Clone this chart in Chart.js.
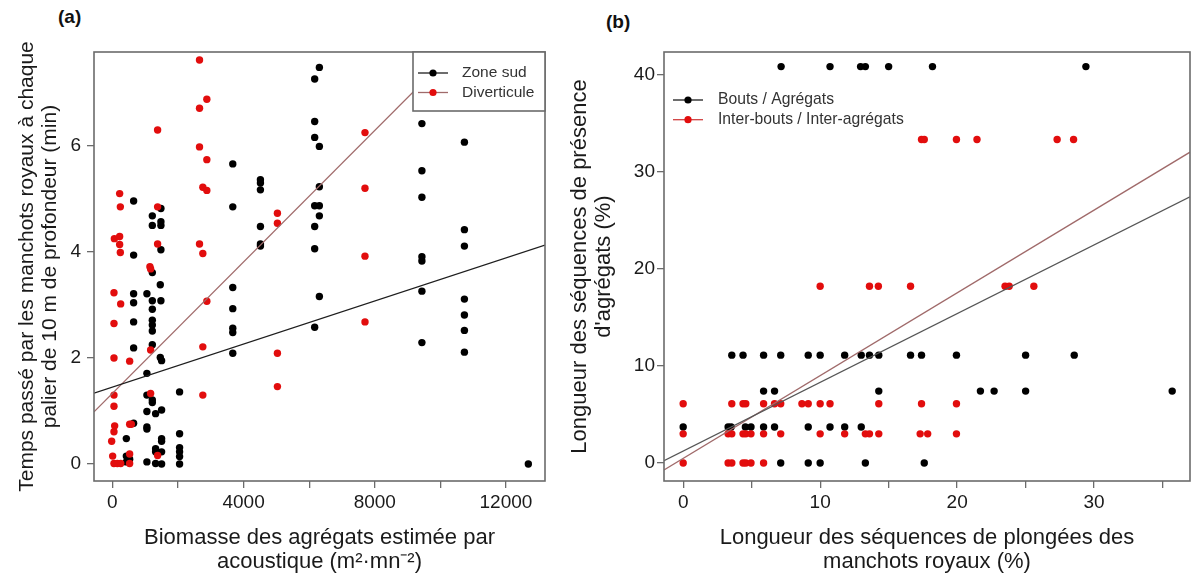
<!DOCTYPE html>
<html lang="fr">
<head>
<meta charset="utf-8">
<title>Manchots royaux et agrégats</title>
<script src="https://cdn.jsdelivr.net/npm/chart.js@4.4.1/dist/chart.umd.min.js"></script>
<style>
  html, body { margin: 0; padding: 0; background: #fff; }
  #wrap { position: relative; width: 1194px; height: 574px; overflow: hidden;
          font-family: "Liberation Sans", Arial, sans-serif; }
  .panel { position: absolute; top: 0; }
  #panel-a { left: 0; }
  #panel-b { left: 560px; }
  .tag { position: absolute; font-weight: bold; font-size: 19px; color: #111; line-height: 1; }
</style>
</head>
<body>
<div id="wrap">
  <div class="tag" style="left:58px; top:7px;">(a)</div>
  <div class="tag" style="left:606px; top:12px;">(b)</div>
  <div class="panel" id="panel-a"><canvas id="chart-a" width="560" height="574"></canvas></div>
  <div class="panel" id="panel-b"><canvas id="chart-b" width="634" height="574"></canvas></div>
</div>
<script>
// ---- panel (a): biomasse vs temps passé ----
const zoneSudX = [6168, 6311, 6168, 6168, 6311, 3671, 4514, 4514, 4514, 648, 1480, 1218, 1480, 1480, 1218,
  3671, 6168, 6311, 6311, 6311, 6168, 6168, 4514, 4514, 4514, 1480, 648, 1218, 9437, 10733, 9437, 9437,
  10733, 10733, 9437, 9437, 6311, 6168, 9437, 9437, 10733, 10733, 10733, 10733, 12682, 1461, 648, 1053,
  1218, 1480, 648, 1218, 648, 1218, 1218, 1218, 1218, 648, 1461, 1501, 1053, 3671, 3671, 3671, 3671, 3671,
  2049, 1053, 1218, 1218, 1053, 1318, 1501, 648, 1053, 1053, 426, 1501, 1501, 2049, 1318, 1501, 1318,
  2049, 2049, 2049, 426, 426, 527, 1053, 1318, 1501, 2049];
const zoneSudY = [7.26, 7.48, 6.46, 6.16, 5.99, 5.66, 5.36, 5.30, 5.17, 4.96, 4.82, 4.68, 4.57, 4.50, 4.50,
  4.85, 4.87, 4.87, 4.68, 5.23, 4.48, 4.06, 4.48, 4.15, 4.11, 4.04, 3.94, 3.61, 6.42, 6.07, 5.53, 5.03,
  4.42, 4.11, 3.91, 3.83, 3.16, 2.58, 3.26, 2.29, 3.11, 2.81, 2.52, 2.11, 0, 3.38, 3.21, 3.21,
  3.08, 3.08, 3.04, 2.92, 2.68, 2.71, 2.62, 2.51, 2.25, 2.19, 2.01, 1.95, 1.71, 3.33, 2.93, 2.56, 2.48, 2.09,
  1.36, 1.30, 1.21, 1.16, 0.99, 0.95, 1.02, 0.77, 0.70, 0.66, 0.48, 0.48, 0.43, 0.57, 0.29, 0.23, 0.23,
  0.31, 0.23, 0.14, 0.15, 0.04, 0.09, 0.04, 0.01, 0, 0];
const diverticuleX = [2657, 2880, 2657, 1379, 2657, 2880, 2758, 2880, 222, 243, 1379, 61, 222, 222, 243,
  1379, 2657, 2758, 1145, 1166, 5032, 5032, 7702, 7702, 7702, 7702, 49, 253, 49, 49, 527, 1166, 2880,
  2758, 2758, 5032, 5032, 49, 49, 1166, 70, 49, -21, 527, 578, 9, 49, 152, 253, 527, 527, 1379];
const diverticuleY = [7.62, 6.88, 6.71, 6.30, 5.98, 5.74, 5.22, 5.16, 5.10, 4.85, 4.85, 4.25, 4.29, 4.14, 3.99,
  4.15, 4.15, 3.97, 3.72, 3.68, 4.73, 4.54, 6.25, 5.20, 3.92, 2.68, 3.23, 3.02, 2.65, 2.00, 1.94, 2.15, 3.07,
  2.21, 1.30, 2.09, 1.46, 1.30, 1.09, 1.33, 0.72, 0.61, 0.43, 0.75, 0.75, 0.15, 0.01, 0.01, 0.01, 0.19, 0.01, 0.16];
const zoneSudFit = [1.45, 0.000203];      // ordonnée à l'origine, pente
const diverticuleFit = [1.33, 0.00062];
const aXRange = [-560, 13190];
const aYRange = [-0.32, 7.77];
const aXTicks = [0, 2000, 4000, 6000, 8000, 10000, 12000];
const aXTickLabels = [0, 4000, 8000, 12000];
const aYTicks = [0, 2, 4, 6];

// ---- panel (b): séquences de plongées vs présence d'agrégats ----
const boutsX = [7.15, 10.72, 12.95, 13.3, 15.0, 18.2, 29.4,
  3.55, 4.37, 5.87, 7.12, 9.13, 10.0, 11.79, 13.0, 13.6, 14.28, 16.6, 17.4, 19.95, 25.0, 28.55,
  5.87, 6.67, 14.28, 21.7, 22.7, 25.0, 35.7,
  0, 3.28, 3.5, 4.54, 4.95, 5.87, 6.67, 9.13, 10.72, 11.79, 13.0,
  7.12, 9.13, 10.0, 13.3, 17.6];
const boutsY = [40.8, 40.8, 40.8, 40.8, 40.8, 40.8, 40.8,
  11.1, 11.1, 11.1, 11.1, 11.1, 11.1, 11.1, 11.1, 11.1, 11.1, 11.1, 11.1, 11.1, 11.1, 11.1,
  7.4, 7.4, 7.4, 7.4, 7.4, 7.4, 7.4,
  3.7, 3.7, 3.7, 3.7, 3.7, 3.7, 3.7, 3.7, 3.7, 3.7, 3.7,
  0, 0, 0, 0, 0];
const interX = [17.4, 17.6, 19.95, 21.45, 27.3, 28.5,
  10.0, 13.6, 14.25, 16.6, 23.5, 23.8, 25.6,
  0, 3.55, 4.37, 4.57, 5.87, 6.67, 7.12, 8.67, 9.13, 10.0, 10.72, 14.28, 17.4, 19.95,
  0, 3.28, 3.55, 4.37, 4.57, 4.95, 5.87, 7.12, 10.0, 11.79, 13.3, 13.6, 14.28, 17.3, 17.85, 19.95,
  0, 3.28, 3.55, 4.37, 4.57, 4.95, 5.87];
const interY = [33.3, 33.3, 33.3, 33.3, 33.3, 33.3,
  18.2, 18.2, 18.2, 18.2, 18.2, 18.2, 18.2,
  6.1, 6.1, 6.1, 6.1, 6.1, 6.1, 6.1, 6.1, 6.1, 6.1, 6.1, 6.1, 6.1, 6.1,
  3.0, 3.0, 3.0, 3.0, 3.0, 3.0, 3.0, 3.0, 3.0, 3.0, 3.0, 3.0, 3.0, 3.0, 3.0, 3.0,
  0, 0, 0, 0, 0, 0, 0];
const boutsFit = [1.23, 0.707];
const interFit = [0.47, 0.852];
const bXRange = [-1.4, 37.0];
const bYRange = [-1.85, 42.3];
const bXTicks = [0, 5, 10, 15, 20, 25, 30, 35];
const bXTickLabels = [0, 10, 20, 30];
const bYTicks = [0, 10, 20, 30, 40];

const BLACK = "#000000";
const RED = "#e20d0d";
const TEXT = "#1a1a1a";
const AXIS = "#6b6b6b";
const FONT = "'Liberation Sans', Arial, sans-serif";

Chart.defaults.font.family = FONT;
Chart.defaults.color = TEXT;

const pairs = (xs, ys) => xs.map((x, i) => ({ x, y: ys[i] }));
const fitLine = ([b, m], [x0, x1]) => [{ x: x0, y: b + m * x0 }, { x: x1, y: b + m * x1 }];

const frame = {
  id: "frame",
  afterDatasetsDraw(chart) {
    const { ctx, chartArea: a } = chart;
    ctx.save();
    ctx.strokeStyle = AXIS;
    ctx.lineWidth = 1.6;
    ctx.strokeRect(a.left, a.top, a.right - a.left, a.bottom - a.top);
    ctx.restore();
  },
};

// legend drawn like R's legend(): line segment with a dot, optional box
const rLegend = {
  id: "rLegend",
  afterDraw(chart, args, opts) {
    if (!opts.entries) return;
    const { ctx, chartArea: a } = chart;
    const left = opts.fromRight ? a.right - opts.width : a.left + opts.dx;
    const top = a.top + opts.dy;
    ctx.save();
    if (opts.box) {
      ctx.fillStyle = "#fff";
      ctx.fillRect(left, a.top, opts.width, opts.height);
      ctx.strokeStyle = AXIS;
      ctx.lineWidth = 1.6;
      ctx.strokeRect(left, a.top, opts.width, opts.height);
    }
    ctx.font = `${opts.fontSize}px ${FONT}`;
    ctx.textBaseline = "middle";
    opts.entries.forEach((e, i) => {
      const y = top + i * opts.step;
      ctx.strokeStyle = e.line;
      ctx.lineWidth = 1.3;
      ctx.beginPath();
      ctx.moveTo(left + opts.symLeft, y);
      ctx.lineTo(left + opts.symLeft + 30, y);
      ctx.stroke();
      ctx.fillStyle = e.point;
      ctx.beginPath();
      ctx.arc(left + opts.symLeft + 15, y, 3.6, 0, Math.PI * 2);
      ctx.fill();
      ctx.fillStyle = "#333";
      ctx.fillText(e.label, left + opts.textLeft, y);
    });
    ctx.restore();
  },
};

function pointSet(label, data, color) {
  return {
    label, data, showLine: false,
    pointRadius: 3.7, pointBorderWidth: 0,
    backgroundColor: color, borderColor: color,
    order: color === RED ? 1 : 2,
  };
}

function lineSet(label, data, color) {
  return {
    label, data, showLine: true,
    borderColor: color, borderWidth: 1.3, pointRadius: 0,
    order: 0,
  };
}

function axis(cfg) {
  const labels = cfg.labels || cfg.ticks;
  return {
    type: "linear",
    min: cfg.range[0],
    max: cfg.range[1],
    afterFit: (s) => { if (cfg.width) s.width = cfg.width; if (cfg.height) s.height = cfg.height; },
    afterBuildTicks: (s) => { s.ticks = cfg.ticks.map((value) => ({ value })); },
    border: { display: false },
    grid: { drawOnChartArea: false, drawTicks: true, tickLength: 7, color: AXIS, lineWidth: 1.3 },
    ticks: {
      autoSkip: false,
      maxRotation: 0,
      padding: cfg.tickPad,
      color: TEXT,
      font: { size: 19 },
      callback: (v) => (labels.includes(v) ? String(v) : ""),
    },
    title: {
      display: true,
      text: cfg.title,
      color: TEXT,
      font: { size: cfg.titleSize || 22, lineHeight: 1.1 },
      padding: cfg.titlePad,
    },
  };
}

function makeChart(id, opts) {
  return new Chart(document.getElementById(id), {
    type: "scatter",
    data: { datasets: opts.datasets },
    options: {
      responsive: false,
      animation: false,
      events: [],
      layout: { padding: opts.padding },
      plugins: { legend: { display: false }, tooltip: { enabled: false }, rLegend: opts.legend },
      scales: { x: axis(opts.x), y: axis(opts.y) },
    },
    plugins: [frame, rLegend],
  });
}

makeChart("chart-a", {
  padding: { top: 52, right: 15, left: 0, bottom: 0 },
  datasets: [
    pointSet("Zone sud", pairs(zoneSudX, zoneSudY), BLACK),
    pointSet("Diverticule", pairs(diverticuleX, diverticuleY), RED),
    lineSet("Zone sud (régression)", fitLine(zoneSudFit, aXRange), "#1e1e1e"),
    lineSet("Diverticule (régression)", fitLine(diverticuleFit, aXRange), "#a06a6a"),
  ],
  x: { range: aXRange, ticks: aXTicks, labels: aXTickLabels, height: 93, tickPad: 3,
       title: ["Biomasse des agrégats estimée par", "acoustique (m²·mn⁻²)"], titlePad: { top: 4, bottom: 0 } },
  y: { range: aYRange, ticks: aYTicks, width: 94, tickPad: 6, titleSize: 21,
       title: ["Temps passé par les manchots royaux à chaque", "palier de 10 m de profondeur (min)"], titlePad: { top: 15.5, bottom: 0 } },
  legend: {
    box: true, fromRight: true, width: 132, height: 59, dy: 21, step: 19.5,
    symLeft: 5, textLeft: 49, fontSize: 15.5,
    entries: [
      { label: "Zone sud", point: BLACK, line: "#1e1e1e" },
      { label: "Diverticule", point: RED, line: "#a06a6a" },
    ],
  },
});

makeChart("chart-b", {
  padding: { top: 52, right: 1, left: 0, bottom: 0 },
  datasets: [
    pointSet("Bouts / Agrégats", pairs(boutsX, boutsY), BLACK),
    pointSet("Inter-bouts / Inter-agrégats", pairs(interX, interY), RED),
    lineSet("Bouts (régression)", fitLine(boutsFit, bXRange), "#555555"),
    lineSet("Inter-bouts (régression)", fitLine(interFit, bXRange), "#a06a6a"),
  ],
  x: { range: bXRange, ticks: bXTicks, labels: bXTickLabels, height: 93, tickPad: 3,
       title: ["Longueur des séquences de plongées des", "manchots royaux (%)"], titlePad: { top: 4, bottom: 0 } },
  y: { range: bYRange, ticks: bYTicks, width: 104, tickPad: 2,
       title: ["Longueur des séquences de présence", "d'agrégats (%)"], titlePad: { top: 8, bottom: 0 } },
  legend: {
    box: false, fromRight: false, dx: 0, dy: 48, step: 19.7,
    symLeft: 9, textLeft: 54, fontSize: 15.7,
    entries: [
      { label: "Bouts / Agrégats", point: BLACK, line: "#1e1e1e" },
      { label: "Inter-bouts / Inter-agrégats", point: RED, line: "#d04040" },
    ],
  },
});
</script>
</body>
</html>
